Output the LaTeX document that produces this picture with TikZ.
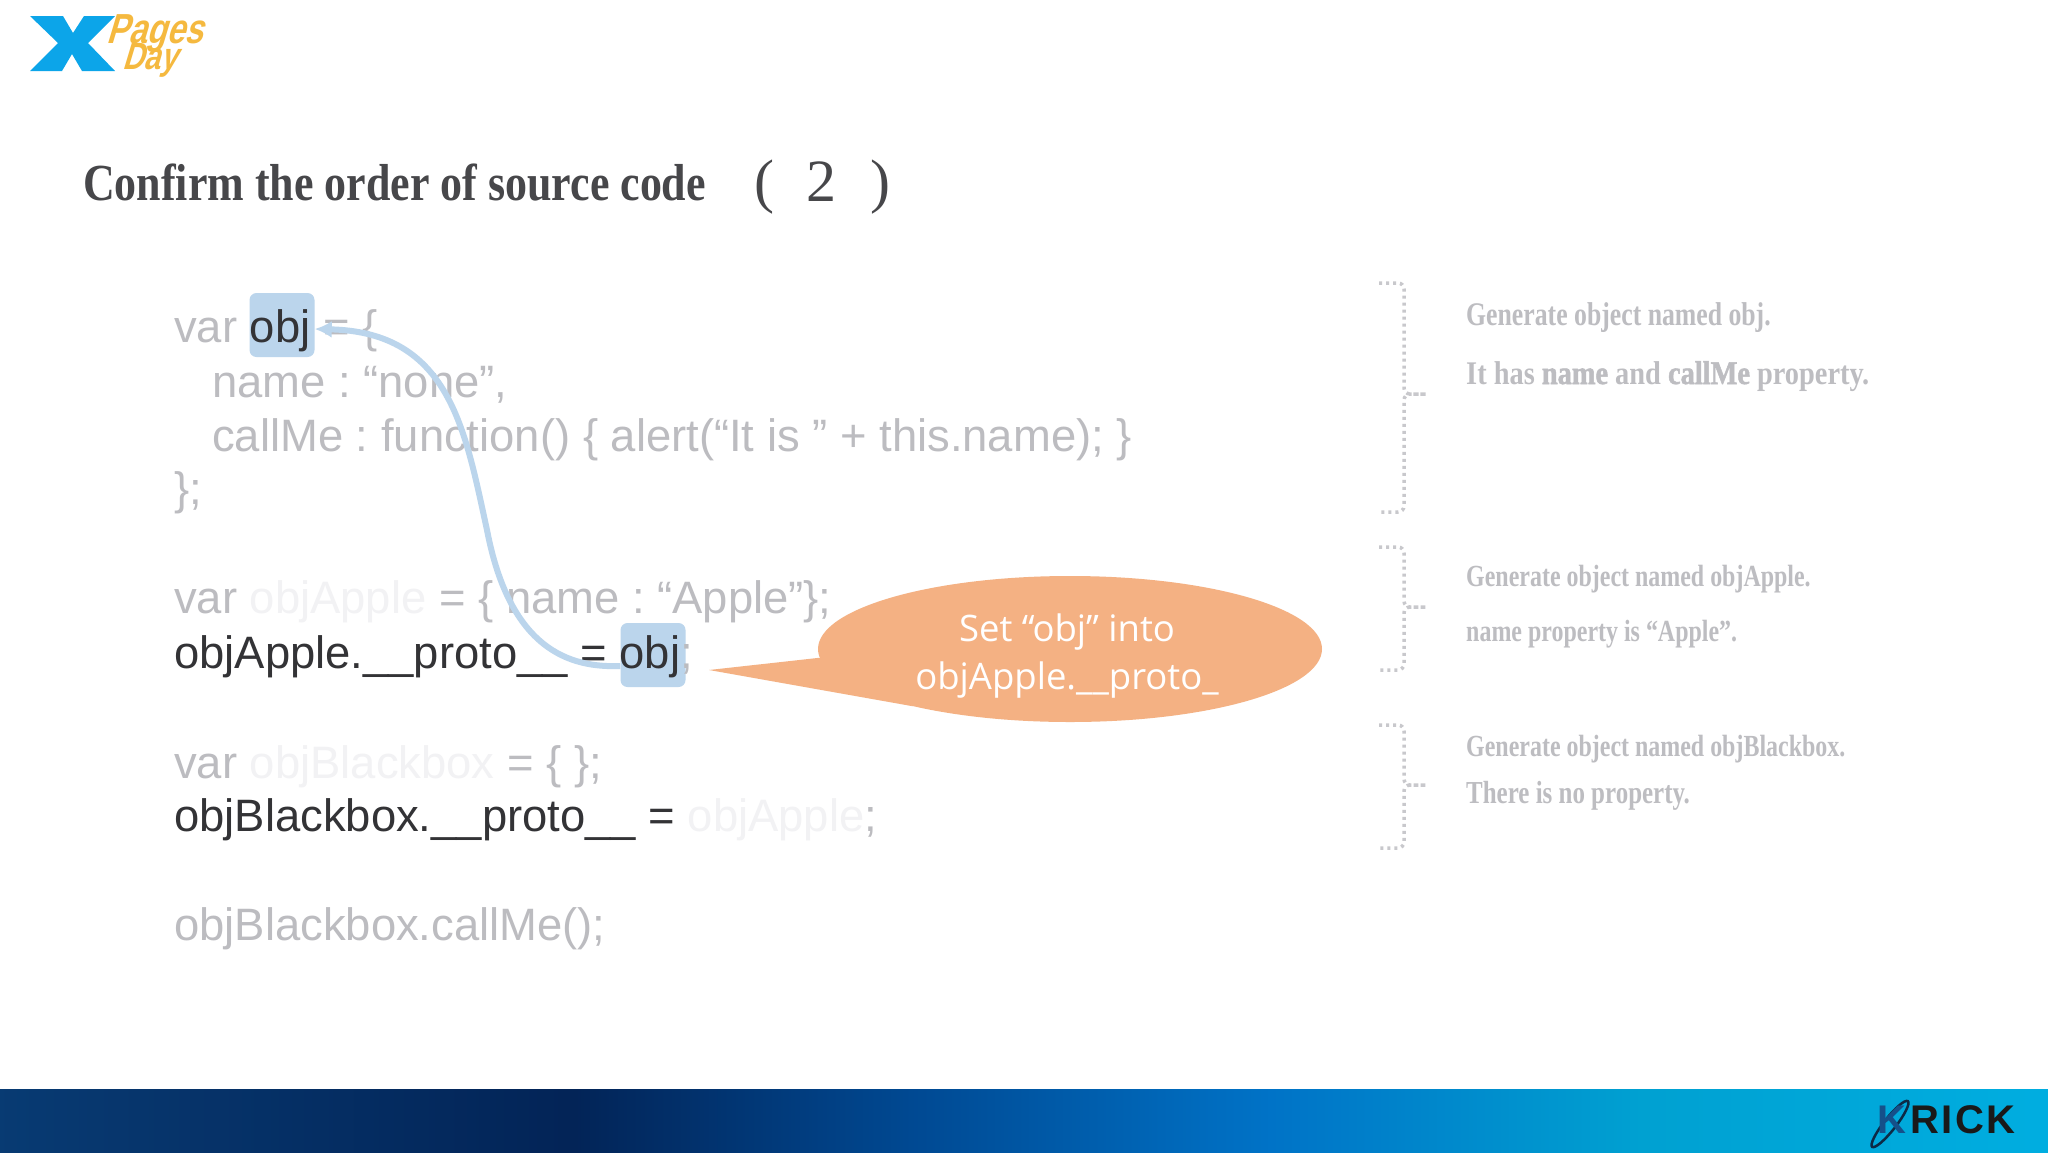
\documentclass[tikz,border=0pt]{standalone}
\usepackage{fontspec}
\setmainfont{Liberation Sans}
\newfontfamily\calloutfont{Open Sans}
\newfontfamily\parenfont{Liberation Serif}
\newfontfamily\gothfont[FakeStretch=0.78]{Liberation Serif Bold}
\newfontfamily\gothtitle[FakeStretch=0.845]{Liberation Serif Bold}
\newfontfamily\gothwide[FakeStretch=0.86]{Liberation Serif Bold}
\newfontfamily\gothheavy[FakeStretch=0.86, FakeBold=1.5]{Liberation Serif Bold}
\newfontfamily\logofont[LetterSpace=6]{Liberation Sans}
\usetikzlibrary{shapes.geometric, arrows.meta}
\definecolor{codedark}{HTML}{333336}
\definecolor{codegrey}{HTML}{BCBCC0}
\definecolor{codefaint}{HTML}{F2F2F4}
\definecolor{notegrey}{HTML}{BDBDC1}
\definecolor{bracketgrey}{HTML}{C8C8CC}
\definecolor{objblue}{HTML}{BBD5EC}
\definecolor{calloutorange}{HTML}{F4B183}
\definecolor{logoblue}{HTML}{0CA5E9}
\definecolor{logoorange}{HTML}{F5B93F}
\definecolor{krickblue}{HTML}{15508A}
\definecolor{swooshnavy}{HTML}{0D2A45}
\pgfdeclarehorizontalshading{barshade}{100bp}{
	rgb(0bp)=(0.03,0.23,0.45); rgb(25bp)=(0.03,0.23,0.45); rgb(39bp)=(0.01,0.14,0.34);
	rgb(47.5bp)=(0,0.29,0.58); rgb(56bp)=(0,0.45,0.78); rgb(65bp)=(0,0.63,0.82);
	rgb(75bp)=(0,0.68,0.88); rgb(100bp)=(0,0.68,0.88)}
\tikzset{
	codeline/.style={anchor=base west, inner sep=0pt, text=codegrey, font=\fontsize{45.4}{54}\selectfont\frenchspacing},
	noteline/.style={anchor=base west, inner sep=0pt, text=notegrey, font=\fontsize{33}{40}\selectfont\gothfont},
	notesmall/.style={noteline, font=\fontsize{30.7}{40}\selectfont\gothfont},
	titleparen/.style={anchor=base, inner sep=0pt, text=codedark!90, font=\fontsize{60}{60}\selectfont\parenfont},
	logotext/.style={anchor=base west, inner sep=0pt, text=logoorange, xslant=.3, transform shape, font=\fontsize{42}{42}\selectfont\bfseries},
	objmark/.style={fill=objblue, rounded corners=7pt, minimum width=65pt, minimum height=64pt, inner sep=0pt},
	bracket/.style={draw=bracketgrey, line width=3.5pt, dash pattern=on 3pt off 4pt, rounded corners=6pt}
}
\begin{document}
\begin{tikzpicture}[x=1pt, y=-1pt]
	\useasboundingbox (0, 0) rectangle (2048, 1152);
	\fill[white] (0, 0) rectangle (2048, 1152);
	\shade[shading=barshade] (0, 1089) rectangle (2048, 1152);

	\fill[logoblue] (30, 16) -- (63, 16) -- (73, 33) -- (84, 16) -- (115, 16) -- (88, 43) -- (115, 71) -- (82, 71) -- (72, 54) -- (62, 71) -- (30, 71) -- (58, 43) -- cycle;
	\node[logotext, xscale=.78] (pages) at (106, 43) {Pages};
	\node[logotext, xscale=.78, font=\fontsize{38}{38}\selectfont\bfseries] (day) at (122, 69) {Day};

	\node[anchor=base west, inner sep=0pt, text=codedark!90, font=\fontsize{52}{52}\selectfont\gothtitle] (title) at (83, 200) {Confirm the order of source code};
	\node[titleparen] (parenl) at (764, 201) {(};
	\node[titleparen] (two) at (821, 201) {2};
	\node[titleparen] (parenr) at (880, 201) {)};

	\node[objmark] (objdef) at (282, 325) {};
	\node[objmark] (objref) at (653, 655) {};

	\node[codeline] (line1) at (174, 342.5) {var \textcolor{codedark}{obj} = \{};
	\node[codeline] (line2) at (212, 397) {name : “none”,};
	\node[codeline] (line3) at (212, 451) {callMe : function() \{ alert(“It is ” + this.name); \}};
	\node[codeline] (line4) at (174, 504.5) {\};};
	\node[codeline] (line5) at (174, 613.5) {var \textcolor{codefaint}{objApple} = \{ name : “Apple”\};};
	\node[codeline, text=codedark] (line6) at (174, 668) {objApple.\_\_proto\_\_ = obj\textcolor{codegrey}{;}};
	\node[codeline] (line7) at (174, 778.5) {var \textcolor{codefaint}{objBlackbox} = \{ \};};
	\node[codeline, text=codedark] (line8) at (174, 831) {objBlackbox.\_\_proto\_\_ = \textcolor{codefaint}{objApple}\textcolor{codegrey}{;}};
	\node[codeline] (line9) at (174, 940) {objBlackbox.callMe();};

	\coordinate (bendmid) at (487, 530);
	\draw[objblue, line width=6pt, -{Latex[length=17pt, width=17pt]}] ([yshift=-11pt]objref.west) .. controls (570, 668) and (510, 650) .. (bendmid) .. controls (465, 430) and (450, 332) .. ([yshift=-4pt]objdef.east);

	\node[ellipse, fill=calloutorange, minimum width=504pt, minimum height=146pt, inner sep=0pt] (setobj) at (1070, 649) {};
	\coordinate (tailtip) at (709, 670);
	\fill[calloutorange] (tailtip) -- (setobj.182) -- (setobj.200) -- cycle;
	\node[align=center, inner sep=0pt, text=white, font=\fontsize{36.5}{48}\selectfont\calloutfont] (setobjtext) at (1067, 656.5) {Set “obj” into\\objApple.\_\_proto\_};

	\draw[bracket] (1379, 283) -- (1404, 283) -- (1404, 394) -- (1430, 394) -- (1404, 394) -- (1404, 512) -- (1379, 512);
	\draw[bracket] (1379, 547) -- (1404, 547) -- (1404, 607) -- (1430, 607) -- (1404, 607) -- (1404, 670) -- (1379, 670);
	\draw[bracket] (1379, 725) -- (1404, 725) -- (1404, 785) -- (1430, 785) -- (1404, 785) -- (1404, 848) -- (1379, 848);

	\node[noteline] (note1a) at (1466, 325) {Generate object named obj.};
	\node[noteline, font=\fontsize{33}{40}\selectfont\gothwide] (note1b) at (1466, 384) {It has {\gothheavy name} and {\gothheavy callMe} property.};
	\node[notesmall] (note2a) at (1466, 586) {Generate object named objApple.};
	\node[notesmall] (note2b) at (1466, 641) {name property is “Apple”.};
	\node[notesmall] (note3a) at (1466, 756) {Generate object named objBlackbox.};
	\node[notesmall, font=\fontsize{32}{40}\selectfont\gothfont] (note3b) at (1466, 803) {There is no property.};

	\draw[swooshnavy, line width=2.5pt, rotate around={52:(1890, 1124)}] (1890, 1124) ellipse (29 and 6);
	\node[anchor=base west, inner sep=0pt, text=krickblue, font=\fontsize{40}{40}\selectfont\bfseries] (logok) at (1877, 1133) {K};
	\node[anchor=base west, inner sep=0pt, text=black!90, font=\fontsize{40}{40}\selectfont\logofont\bfseries] (logorick) at (1910, 1133) {RICK};
\end{tikzpicture}
\end{document}
